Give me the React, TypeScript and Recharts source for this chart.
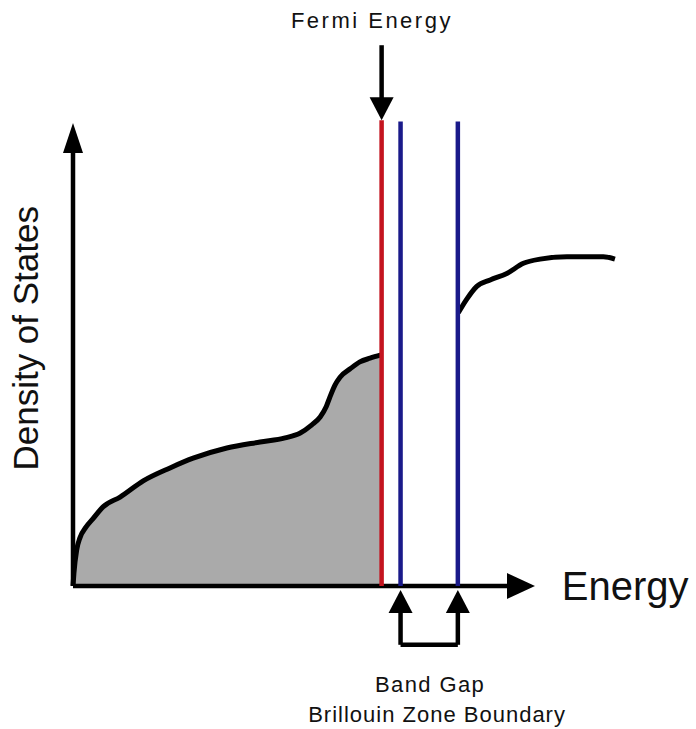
import {
  ComposedChart, Area, Line, XAxis, YAxis, ReferenceLine, ReferenceDot,
} from "recharts";

// lower band (filled up to the Fermi level)
const energyLow = [0, 0.2, 0.8, 1.5, 2.8, 4.3, 6.5, 10.2, 15.2, 21.0, 26.0, 33.3, 40.5, 45.9, 49.1, 51.7, 53.5, 54.8, 55.6, 56.7, 57.8, 60.0, 62.1, 64.3, 66.7];
const dosLow = [0, 2.8, 7.8, 10.4, 12.7, 14.5, 17.1, 19.2, 22.7, 25.5, 27.6, 29.8, 31.1, 32.0, 33.0, 34.8, 36.5, 38.7, 40.8, 43.4, 45.1, 46.9, 48.4, 49.2, 49.9];

// upper band (above the gap)
const energyHigh = [83.4, 85.2, 87.4, 90.3, 93.9, 97.5, 101.1, 106.9, 114.8, 117.3];
const dosHigh = [59.0, 61.9, 64.7, 66.1, 67.5, 69.7, 70.6, 71.1, 71.1, 70.6];

const fermiEnergy = 66.8;
const gapEdges = [70.9, 83.3];

const lowData = energyLow.map((e, i) => ({ e, dos: dosLow[i] }));
const highData = energyHigh.map((e, i) => ({ e, dos: dosHigh[i] }));

const FONT = "'Liberation Sans', Arial, sans-serif";
const RED = "#c4141f";
const BLUE = "#1a1a8a";

type Dir = "up" | "down" | "right";

function arrowHead(dir: Dir, len = 26, half = 12) {
  return (p: any) => {
    const { cx, cy } = p;
    let pts = "";
    if (dir === "up") pts = `${cx},${cy} ${cx - half},${cy + len} ${cx + half},${cy + len}`;
    if (dir === "down") pts = `${cx},${cy} ${cx - half},${cy - len} ${cx + half},${cy - len}`;
    if (dir === "right") pts = `${cx},${cy} ${cx - len},${cy - half} ${cx - len},${cy + half}`;
    return <polygon points={pts} fill="#000" />;
  };
}

function textMark(txt: string, size: number, opts: any = {}) {
  return (p: any) => (
    <text
      x={p.cx}
      y={p.cy}
      fontFamily={FONT}
      fontSize={size}
      fill="#111"
      textAnchor={opts.anchor ?? "middle"}
      letterSpacing={opts.spacing ?? 0}
      transform={opts.rotate ? `rotate(${opts.rotate}, ${p.cx}, ${p.cy})` : undefined}
    >
      {txt}
    </text>
  );
}

export default function App() {
  return (
    <div style={{ position: "absolute", left: 0, top: 0, background: "#fff" }}>
      <ComposedChart
        width={696}
        height={729}
        margin={{ top: 123, right: 68.6, bottom: 143, left: 73 }}
      >
        <XAxis type="number" dataKey="e" domain={[0, 120]} hide />
        <YAxis type="number" dataKey="dos" domain={[0, 100]} hide />

        <Area
          data={lowData}
          dataKey="dos"
          type="monotone"
          fill="#aaaaaa"
          fillOpacity={1}
          stroke="#000"
          strokeWidth={5}
          isAnimationActive={false}
        />
        <Line
          data={highData}
          dataKey="dos"
          type="monotone"
          stroke="#000"
          strokeWidth={5}
          dot={false}
          isAnimationActive={false}
        />

        {/* axes */}
        <ReferenceLine segment={[{ x: 0, y: 0 }, { x: 0, y: 94 }]} stroke="#000" strokeWidth={4.5} ifOverflow="visible" />
        <ReferenceLine segment={[{ x: 0, y: 0 }, { x: 94, y: 0 }]} stroke="#000" strokeWidth={4.5} ifOverflow="visible" />
        <ReferenceDot x={0} y={100} ifOverflow="visible" shape={arrowHead("up", 30, 10)} />
        <ReferenceDot x={100} y={0} ifOverflow="visible" shape={arrowHead("right", 28, 13)} />

        {/* fermi level and zone boundaries */}
        <ReferenceLine segment={[{ x: fermiEnergy, y: 0 }, { x: fermiEnergy, y: 100.6 }]} stroke={RED} strokeWidth={4.5} ifOverflow="visible" />
        {gapEdges.map((g) => (
          <ReferenceLine key={g} segment={[{ x: g, y: 0 }, { x: g, y: 100.3 }]} stroke={BLUE} strokeWidth={4.5} ifOverflow="visible" />
        ))}

        {/* fermi arrow */}
        <ReferenceLine segment={[{ x: fermiEnergy, y: 116.8 }, { x: fermiEnergy, y: 105 }]} stroke="#000" strokeWidth={4.5} ifOverflow="visible" />
        <ReferenceDot x={fermiEnergy} y={100.6} ifOverflow="visible" shape={arrowHead("down", 23, 12)} />

        {/* band gap bracket */}
        {gapEdges.map((g) => (
          <ReferenceLine key={`s${g}`} segment={[{ x: g, y: -5.5 }, { x: g, y: -12.7 }]} stroke="#000" strokeWidth={4.5} ifOverflow="visible" />
        ))}
        <ReferenceLine segment={[{ x: gapEdges[0], y: -12.7 }, { x: gapEdges[1], y: -12.7 }]} stroke="#000" strokeWidth={4.5} ifOverflow="visible" />
        {gapEdges.map((g) => (
          <ReferenceDot key={`a${g}`} x={g} y={-0.86} ifOverflow="visible" shape={arrowHead("up", 23, 12)} />
        ))}

        {/* labels */}
        <ReferenceDot x={64.7} y={120.5} ifOverflow="visible" shape={textMark("Fermi Energy", 22, { spacing: 2.5 })} />
        <ReferenceDot x={105.8} y={-3.0} ifOverflow="visible" shape={textMark("Energy", 40, { anchor: "start" })} />
        <ReferenceDot x={77.3} y={-22.9} ifOverflow="visible" shape={textMark("Band Gap", 22, { spacing: 1.4 })} />
        <ReferenceDot x={78.8} y={-29.4} ifOverflow="visible" shape={textMark("Brillouin Zone Boundary", 22, { spacing: 1 })} />
        <ReferenceDot x={-7.6} y={53.5} ifOverflow="visible" shape={textMark("Density of States", 35, { rotate: -90 })} />
      </ComposedChart>
    </div>
  );
}
